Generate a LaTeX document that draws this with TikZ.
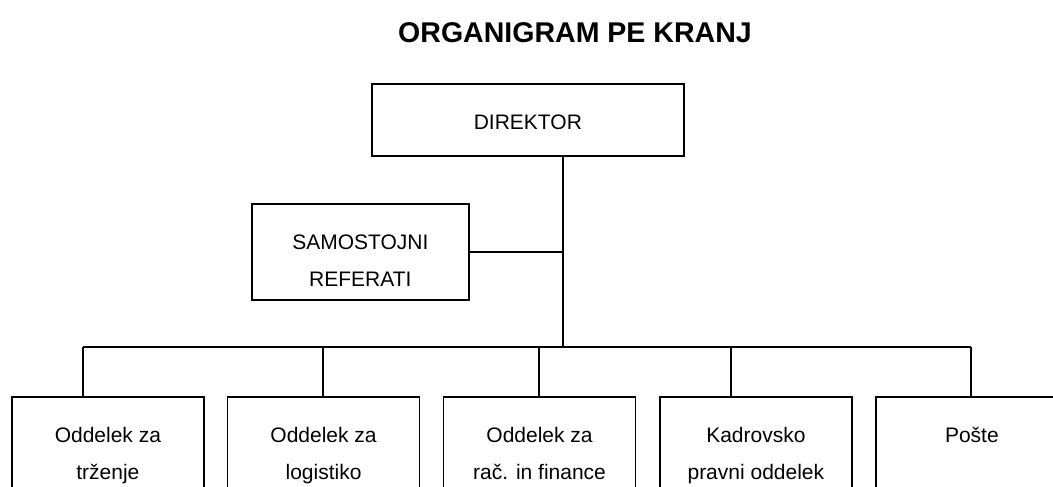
\documentclass[tikz,border=0pt]{standalone}
\usepackage{fontspec}
\setmainfont{Liberation Sans}
\begin{document}
\begin{tikzpicture}[x=0.75pt, y=-0.75pt,
    unit/.style={draw, line width=1.3pt, rectangle, anchor=north west, inner sep=0pt},
    dept/.style={unit, minimum width=144pt, minimum height=97.5pt},
    unittext/.style={anchor=north, inner sep=0pt, align=center, yshift=-20pt,
        font=\fontsize{15.75}{27.75}\selectfont},
    link/.style={line width=1.3pt}]
    \clip (0, 0) rectangle (1053, 486);
    %\draw[lightgray] (0, 0) grid[step=50] (1053, 486);
    \node[anchor=base, font=\bfseries\fontsize{21.4}{25}\selectfont] (title) at (575, 42) {ORGANIGRAM PE KRANJ};

    \node[unit, minimum width=234pt, minimum height=54pt] (dir) at (371, 83) {};
    \node[unittext] (dirtext) at (dir.north) {\rule{0pt}{15pt}DIREKTOR};
    \node[unit, minimum width=162.75pt, minimum height=72pt] (ref) at (251, 203) {};
    \node[unittext] (reftext) at (ref.north) {\rule{0pt}{15pt}SAMOSTOJNI\\REFERATI};

    \node[dept] (trz) at (11, 396) {};
    \node[unittext] (trztext) at (trz.north) {\rule{0pt}{15pt}Oddelek za\\trženje};
    \node[dept] (log) at (226.7, 396) {};
    \node[unittext] (logtext) at (log.north) {\rule{0pt}{15pt}Oddelek za\\logistiko};
    \node[dept] (fin) at (442.7, 396) {};
    \node[unittext] (fintext) at (fin.north) {\rule{0pt}{15pt}Oddelek za\\rač. in finance};
    \node[dept] (kad) at (659, 396) {};
    \node[unittext] (kadtext) at (kad.north) {\rule{0pt}{15pt}Kadrovsko\\pravni oddelek};
    \node[dept] (pos) at (875, 396) {};
    \node[unittext] (postext) at (pos.north) {\rule{0pt}{15pt}Pošte};

    % trunk and bus
    \coordinate (jt) at (563, 347);
    \coordinate (j1) at (83, 347);
    \coordinate (j2) at (322.7, 347);
    \coordinate (j3) at (539, 347);
    \coordinate (j4) at (730.7, 347);
    \coordinate (j5) at (970.7, 347);
    \draw[link] (dir.south -| jt) -- (jt);
    \draw[link] (ref.east) -- (ref.east -| jt);
    \draw[link] (j1) -- (j5);
    \draw[link] (j1) -- (trz.north -| j1);
    \draw[link] (j2) -- (log.north -| j2);
    \draw[link] (j3) -- (fin.north -| j3);
    \draw[link] (j4) -- (kad.north -| j4);
    \draw[link] (j5) -- (pos.north -| j5);
\end{tikzpicture}
\end{document}
